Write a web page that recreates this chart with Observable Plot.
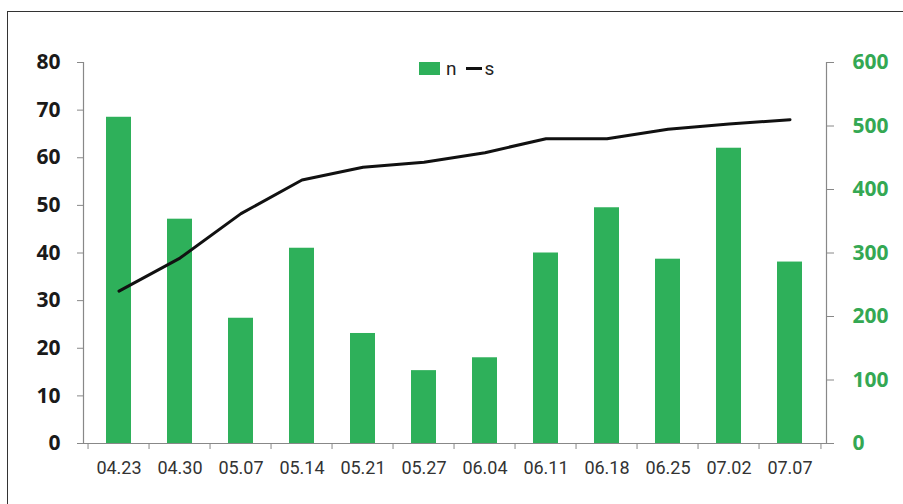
<!DOCTYPE html>
<html><head><meta charset="utf-8">
<script src="https://cdn.jsdelivr.net/npm/d3@7"></script>
<script src="https://cdn.jsdelivr.net/npm/@observablehq/plot@0.6"></script>
<style>
body{margin:0;background:#fff;overflow:hidden}
#wrap{position:relative;width:903px;height:504px;overflow:hidden;background:#fff}
#frame{position:absolute;left:7px;top:11px;width:1000px;height:600px;border:1.5px solid #333;box-sizing:border-box}
#chart{position:absolute;left:0;top:0}
#legend{position:absolute;left:419px;top:57px;height:22px;display:flex;align-items:center;font-family:Roboto,"Open Sans",sans-serif;font-size:19px;color:#222}
#legend .sw{width:21px;height:13px;background:#2EB05A;margin-right:6px}
#legend .ln{width:16px;height:3px;background:#111;margin:0 3px 0 9px}
</style></head>
<body><div id="wrap"><div id="frame"></div><div id="chart"></div>
<div id="legend"><span class="sw"></span><span>n</span><span class="ln"></span><span>s</span></div></div>
<script>
const dates = ["04.23","04.30","05.07","05.14","05.21","05.27","06.04","06.11","06.18","06.25","07.02","07.07"];
const nValues = [68.5, 47.1, 26.3, 41.0, 23.1, 15.3, 18.0, 40.0, 49.5, 38.7, 62.0, 38.1];
const sValues = [240, 292, 362, 415, 435, 443, 458, 480, 480, 495, 503, 510];
const leftTicks = [0, 10, 20, 30, 40, 50, 60, 70, 80];
const rightTicks = [0, 100, 200, 300, 400, 500, 600];

const green = "#2EB05A";
const labelGreen = "#34A853";
const W = 903, H = 504;
const mL = 83, mR = 77, mT = 62, mB = 61;
const ratio = 80 / 600;
const step = (W - mL - mR) / dates.length;

const data = dates.map((d, i) => ({date: d, n: nValues[i], s: sValues[i]}));

const chart = Plot.plot({
  width: W,
  height: H,
  marginLeft: mL,
  marginRight: mR,
  marginTop: mT,
  marginBottom: mB,
  style: {fontFamily: "Roboto, 'Open Sans', sans-serif", background: "transparent", overflow: "visible"},
  x: {type: "band", domain: dates, paddingInner: 0.59, paddingOuter: 0.295},
  y: {domain: [0, 80]},
  marks: [
    Plot.barY(data, {x: "date", y: "n", fill: green}),
    Plot.lineY(data, {x: "date", y: d => d.s * ratio, stroke: "#111", strokeWidth: 3, curve: "linear"}),
    Plot.frame({anchor: "left", stroke: "#888", strokeWidth: 1.2}),
    Plot.frame({anchor: "right", stroke: "#888", strokeWidth: 1.2}),
    Plot.frame({anchor: "bottom", stroke: "#888", strokeWidth: 1.2}),
    Plot.axisY(leftTicks, {anchor: "left", tickSize: 6, tickPadding: 17, stroke: "#888",
      fontSize: 21, fontWeight: "bold", fill: "#1a1a1a", fontFamily: "'Open Sans', sans-serif", label: null}),
    Plot.axisY(rightTicks.map(v => v * ratio), {anchor: "right", tickSize: 7, tickPadding: 19, stroke: "#888",
      tickFormat: d => String(Math.round(d / ratio)),
      fontSize: 21, fontWeight: "bold", fill: labelGreen, fontFamily: "'Open Sans', sans-serif", label: null}),
    Plot.axisX(dates, {anchor: "bottom", tickSize: 0, tickPadding: 18, fontSize: 18, fill: "#333", label: null}),
    Plot.axisX(dates, {anchor: "bottom", tickSize: 6, tickFormat: null, dx: -step / 2, stroke: "#888", label: null}),
    Plot.axisX(dates.slice(-1), {anchor: "bottom", tickSize: 6, tickFormat: null, dx: step / 2, stroke: "#888", label: null})
  ]
});
document.getElementById("chart").appendChild(chart);
</script>
</body></html>
